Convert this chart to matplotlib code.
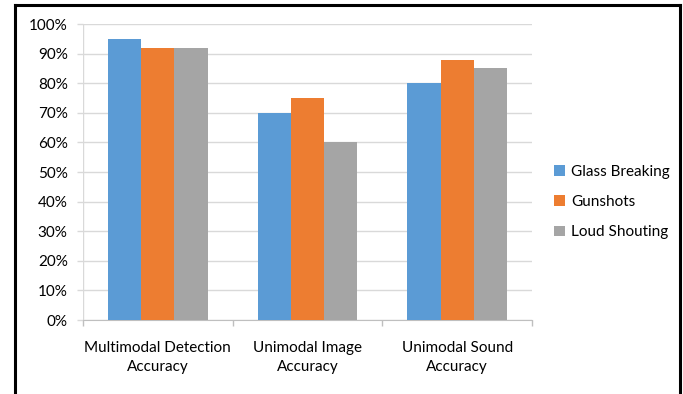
import matplotlib
matplotlib.use("Agg")
import matplotlib.pyplot as plt
from matplotlib.lines import Line2D
import numpy as np

categories = ["Multimodal Detection\nAccuracy", "Unimodal Image\nAccuracy", "Unimodal Sound\nAccuracy"]
series_names = ["Glass Breaking", "Gunshots", "Loud Shouting"]
glass = [0.95, 0.70, 0.80]
gunshots = [0.92, 0.75, 0.88]
shouting = [0.92, 0.60, 0.85]
yticks = [0.0, 0.1, 0.2, 0.3, 0.4, 0.5, 0.6, 0.7, 0.8, 0.9, 1.0]
ytick_labels = ["0%", "10%", "20%", "30%", "40%", "50%", "60%", "70%", "80%", "90%", "100%"]

colors = ["#5B9BD5", "#ED7D31", "#A5A5A5"]
plt.rcParams['font.family'] = ['Lato', 'DejaVu Sans']

W, H = 683, 394
fig = plt.figure(figsize=(W / 100, H / 100), dpi=100)
ax = fig.add_axes([83 / W, (H - 320) / H, (532 - 83) / W, (320 - 24) / H])

x = np.arange(len(categories))
bw = 0.222
for i, (vals, name) in enumerate(zip([glass, gunshots, shouting], series_names)):
    ax.bar(x + (i - 1) * bw, vals, width=bw, color=colors[i], label=name, zorder=3)

ax.set_xlim(-0.5, len(categories) - 0.5)
ax.set_ylim(0, 1.0)
ax.set_yticks(yticks)
ax.set_yticklabels(ytick_labels, fontsize=11, color="#000000")
ax.yaxis.grid(True, color="#D9D9D9", linewidth=1.0, zorder=0)
ax.tick_params(axis="y", direction="out", length=4.5, width=1.0, color="#D9D9D9", pad=6.5)

ax.set_xticks(x)
ax.set_xticklabels(categories, fontsize=11, linespacing=1.5)
ax.set_xticks(np.arange(-0.5, len(categories), 1.0), minor=True)
ax.tick_params(axis="x", which="major", length=0, pad=15)
ax.tick_params(axis="x", which="minor", direction="out", length=4.5, width=1.0, color="#BFBFBF")

for s in ["top", "right"]:
    ax.spines[s].set_visible(False)
ax.spines["bottom"].set_color("#BFBFBF")
ax.spines["left"].set_visible(False)
ax.axvline(-0.5, color="#D9D9D9", linewidth=1.0, zorder=1)

leg = fig.legend(loc="upper left", bbox_to_anchor=(548 / W, 1 - 159 / H), frameon=False,
                 fontsize=11, handlelength=0.7, handleheight=0.7, handletextpad=0.4,
                 labelspacing=1.05, borderaxespad=0)

# outer frame
fig.add_artist(Line2D([15 / W, 15 / W], [0, 1 - 5 / H], transform=fig.transFigure, color="black", linewidth=2.2))
fig.add_artist(Line2D([15 / W, 680 / W], [1 - 5 / H, 1 - 5 / H], transform=fig.transFigure, color="black", linewidth=2.2))
fig.add_artist(Line2D([680 / W, 680 / W], [0, 1 - 5 / H], transform=fig.transFigure, color="black", linewidth=2.2))

fig.savefig("out.png", dpi=100, facecolor="white")
